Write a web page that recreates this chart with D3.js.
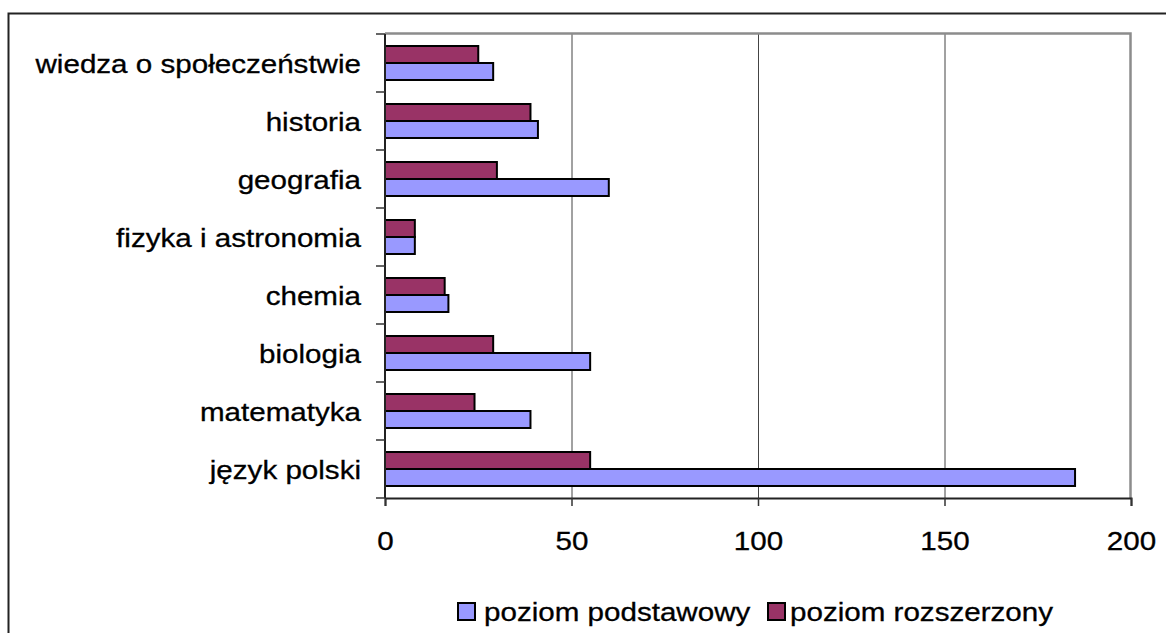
<!DOCTYPE html>
<html>
<head>
<meta charset="utf-8">
<script src="https://cdn.jsdelivr.net/npm/d3@7"></script>
<style>
  body { margin: 0; background: #fff; }
  svg text { font-family: "Liberation Sans", Arial, sans-serif; fill: #000; stroke: #000; stroke-width: 0.3; }
</style>
</head>
<body>
<div id="chart"></div>
<script>
// categories top to bottom
var categories = ["wiedza o społeczeństwie", "historia", "geografia", "fizyka i astronomia",
    "chemia", "biologia", "matematyka", "język polski"];
var podstawowy = [29, 41, 60, 8, 17, 55, 39, 185];
var rozszerzony = [25, 39, 30, 8, 16, 29, 24, 55];
var seriesNames = ["poziom podstawowy", "poziom rozszerzony"];
var xTicks = [0, 50, 100, 150, 200];

var W = 1166, H = 633;
var fontSize = 25.5, stretch = 1.16;
var colors = { blue: "#9999ff", maroon: "#993366" };
var plot = { left: 385, top: 34, right: 1131, bottom: 498 };

var svg = d3.select("#chart").append("svg")
    .attr("width", W)
    .attr("height", H);

svg.append("rect")
    .attr("width", W).attr("height", H)
    .attr("fill", "#fff");

// outer frame (runs off the right and bottom edge)
svg.append("rect")
    .attr("x", 8.5).attr("y", 13.5)
    .attr("width", W + 20).attr("height", H + 20)
    .attr("fill", "none")
    .attr("stroke", "#222")
    .attr("stroke-width", 2);

var x = d3.scaleLinear().domain([0, 200]).range([plot.left, plot.right]);
var y = d3.scaleBand().domain(categories)
    .range([plot.top, plot.bottom])
    .paddingInner(0.414)
    .paddingOuter(0.207);
var sub = d3.scaleBand().domain(["r", "p"]).range([0, y.bandwidth()]);

// gridlines
svg.append("g").selectAll("line")
    .data([50, 100, 150])
    .join("line")
    .attr("x1", d => x(d) + 0.5).attr("x2", d => x(d) + 0.5)
    .attr("y1", plot.top).attr("y2", plot.bottom)
    .attr("stroke", "#444")
    .attr("stroke-width", 1);

// plot area border top / right
svg.append("path")
    .attr("d", "M" + plot.left + "," + (plot.top - 0.5) + "H" + (plot.right - 0.5) + "V" + plot.bottom)
    .attr("fill", "none")
    .attr("stroke", "#8c8c8c")
    .attr("stroke-width", 2.5);

// bars
var rows = categories.map((c, i) => ({ cat: c, p: podstawowy[i], r: rozszerzony[i] }));
var g = svg.append("g");
g.selectAll("rect.r")
    .data(rows)
    .join("rect")
    .attr("class", "r")
    .attr("x", x(0))
    .attr("y", d => y(d.cat) + sub("r"))
    .attr("width", d => x(d.r) - x(0))
    .attr("height", sub.bandwidth())
    .attr("fill", colors.maroon)
    .attr("stroke", "#000")
    .attr("stroke-width", 2);
g.selectAll("rect.p")
    .data(rows)
    .join("rect")
    .attr("class", "p")
    .attr("x", x(0))
    .attr("y", d => y(d.cat) + sub("p"))
    .attr("width", d => x(d.p) - x(0))
    .attr("height", sub.bandwidth())
    .attr("fill", colors.blue)
    .attr("stroke", "#000")
    .attr("stroke-width", 2);

// x axis
var xAxis = svg.append("g")
    .attr("transform", "translate(0," + plot.bottom + ")")
    .call(d3.axisBottom(x).tickValues(xTicks).tickSize(8).tickFormat(d3.format("d")));
xAxis.select(".domain").attr("stroke", "#222").attr("stroke-width", 2);
xAxis.selectAll(".tick line").attr("stroke", "#333").attr("stroke-width", 1.5);
xAxis.selectAll(".tick text")
    .attr("y", 52).attr("dy", null)
    .attr("font-size", fontSize)
    .attr("font-family", "Liberation Sans, Arial, sans-serif")
    .attr("transform", "scale(" + stretch + ",1)");

// y axis: line plus ticks between categories
var step = y.step(), gap = (step - y.bandwidth()) / 2;
var bounds = categories.map(c => y(c) - gap).concat([plot.bottom]);
svg.append("line")
    .attr("x1", plot.left).attr("x2", plot.left)
    .attr("y1", plot.top).attr("y2", plot.bottom)
    .attr("stroke", "#222").attr("stroke-width", 2);
svg.append("g").selectAll("line")
    .data(bounds)
    .join("line")
    .attr("x1", plot.left - 9).attr("x2", plot.left)
    .attr("y1", d => d).attr("y2", d => d)
    .attr("stroke", "#333").attr("stroke-width", 1.5);

svg.append("g").selectAll("text")
    .data(categories)
    .join("text")
    .attr("transform", d => "translate(361," + (y(d) + y.bandwidth() / 2 + 10) + ") scale(" + stretch + ",1)")
    .attr("text-anchor", "end")
    .attr("font-size", fontSize)
    .text(d => d);

// legend
var legend = [
    { name: seriesNames[0], color: colors.blue, sx: 458, tx: 484 },
    { name: seriesNames[1], color: colors.maroon, sx: 768, tx: 790 }
];
var lg = svg.append("g").selectAll("g")
    .data(legend)
    .join("g");
lg.append("rect")
    .attr("x", d => d.sx).attr("y", 603)
    .attr("width", 17).attr("height", 17)
    .attr("fill", d => d.color)
    .attr("stroke", "#000")
    .attr("stroke-width", 2);
lg.append("text")
    .attr("transform", d => "translate(" + d.tx + ",621) scale(" + stretch + ",1)")
    .attr("font-size", fontSize)
    .text(d => d.name);
</script>
</body>
</html>
